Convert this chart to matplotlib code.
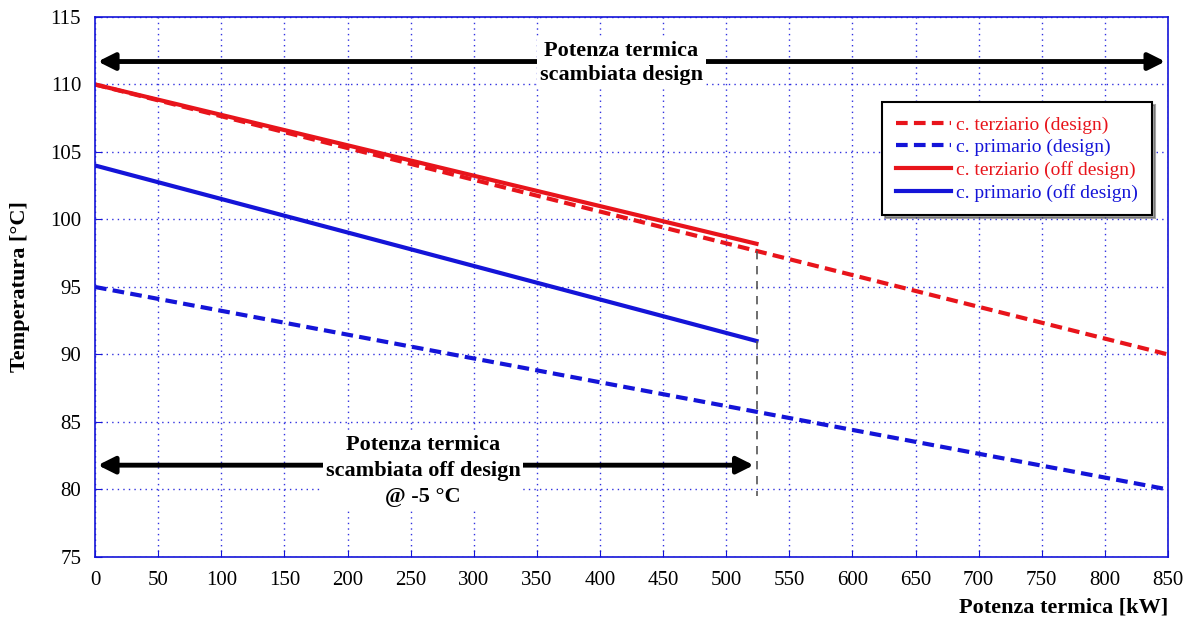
import matplotlib.pyplot as plt

# potenza termica [kW] / temperatura [°C]
x_design = [0, 850]
terz_design = [110, 90]
prim_design = [95, 80]

x_off = [0, 524]
terz_off = [110, 98.2]
prim_off = [104, 91]

x_ticks = list(range(0, 851, 50))
y_ticks = list(range(75, 116, 5))

plt.rcParams['font.family'] = ['Liberation Serif', 'DejaVu Serif']

fig = plt.figure(figsize=(11.97, 6.24), dpi=100)
ax = fig.add_axes([0.0794, 0.1074, 0.8964, 0.8654])

ax.plot(x_design, terz_design, color='#e8141b', lw=3, ls=(0, (2.8, 1.5)), label='c. terziario (design)')
ax.plot(x_design, prim_design, color='#1414d8', lw=3, ls=(0, (2.8, 1.5)), label='c. primario (design)')
ax.plot(x_off, terz_off, color='#e8141b', lw=3, label='c. terziario (off design)')
ax.plot(x_off, prim_off, color='#1414d8', lw=3, label='c. primario (off design)')

# linea verticale off design
ax.plot([x_off[1], x_off[1]], [97.7, 79.5], color='#555555', lw=1.2, ls=(0, (5, 4)))

ax.set_xlim(0, 850)
ax.set_ylim(75, 115)
ax.set_xticks(x_ticks)
ax.set_yticks(y_ticks)
ax.tick_params(direction='in', colors='#1414d8', labelcolor='black', labelsize=15, length=5, pad=10)
ax.grid(True, color='#3030e0', ls=(0, (1, 3)), lw=1)
for s in ax.spines.values():
    s.set_color('#1414d8')
    s.set_linewidth(1.2)

ax.set_xlabel('Potenza termica [kW]', fontsize=16, fontweight='bold')
ax.xaxis.set_label_coords(1.0, -0.075)
ax.xaxis.label.set_horizontalalignment('right')
ax.set_ylabel('Temperatura [°C]', fontsize=16, fontweight='bold', labelpad=14)

# frecce
ax.annotate('', xy=(0, 111.7), xytext=(850, 111.7),
            arrowprops=dict(arrowstyle='<|-|>', color='black', lw=3.5, mutation_scale=25))
ax.text(417, 111.6, 'Potenza termica\nscambiata design', ha='center', va='center',
        fontsize=16, fontweight='bold', linespacing=1.3,
        bbox=dict(facecolor='white', edgecolor='none', pad=2))

ax.annotate('', xy=(0, 81.8), xytext=(x_off[1], 81.8),
            arrowprops=dict(arrowstyle='<|-|>', color='black', lw=3.5, mutation_scale=25))
ax.text(260, 81.4, 'Potenza termica\nscambiata off design\n@ -5 °C', ha='center', va='center',
        fontsize=16, fontweight='bold', linespacing=1.4,
        bbox=dict(facecolor='white', edgecolor='none', pad=2))

leg = ax.legend(loc='upper right', bbox_to_anchor=(0.994, 0.86), fontsize=14, frameon=True,
                fancybox=False, shadow=True, edgecolor='black', handlelength=2.8,
                handletextpad=0.3, borderpad=0.7, labelspacing=0.25)
leg.get_frame().set_linewidth(1.5)
for t, c in zip(leg.get_texts(), ['#e8141b', '#1414d8', '#e8141b', '#1414d8']):
    t.set_color(c)

fig.savefig('out.png', dpi=100)
